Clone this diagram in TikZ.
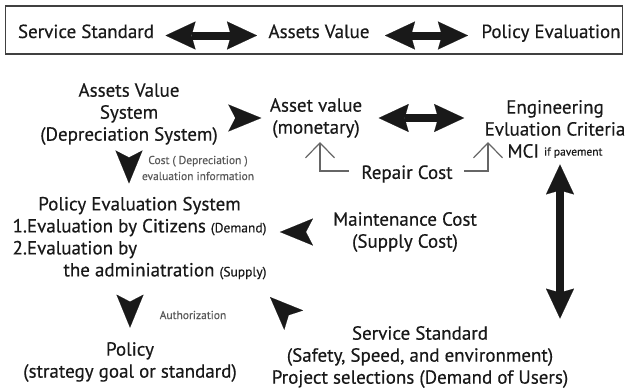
\documentclass[tikz,border=0pt]{standalone}
\usepackage{fontspec}
\setmainfont{PT Sans}[FakeBold=0.4]
\usetikzlibrary{arrows.meta,decorations.markings,positioning}

\newcommand{\bigfnt}{\fontsize{19}{22}\selectfont}
\newcommand{\smlfnt}{\fontsize{13.5}{14}\selectfont}
\newcommand{\tinyfnt}{\fontsize{11.5}{16}\selectfont}

\tikzset{
  notchtip/.tip={Stealth[length=33pt,width=27pt,inset=7pt,line width=0.1pt]},
  widetip/.tip={Stealth[length=30pt,width=28pt,inset=4pt,line width=0.1pt]},
}

\begin{document}
\begin{tikzpicture}[x=1pt, y=-1pt, text=black!90,
    main/.style = {draw=none, font=\bigfnt, align=center},
    note/.style = {draw=none, font=\tinyfnt, align=center, text=black!65},
    twoway/.style = {line width=8pt, black!90, arrows={widetip-widetip}},
    dartmark/.style = {black!90, postaction={decorate},
      decoration={markings, mark=at position #1 with {\arrow{notchtip}}}},
    bracket/.style = {line width=1.2pt, black!60, -{Straight Barb[length=15pt,width=29pt]}}]
    \useasboundingbox (0,0) rectangle (628,389);

    % top bar
    \node[draw=black!75, line width=1.6pt, minimum width=617pt, minimum height=48pt, inner sep=0pt] (bar) at (314,30) {};
    \node[main, anchor=base] (ss) at (86,38)  {Service Standard};
    \node[main, anchor=base] (av) at (319,38) {Assets Value};
    \node[main, anchor=base] (pe) at (551,38) {Policy Evaluation};
    \draw[twoway, shorten <=8pt, shorten >=8pt]  (ss.mid east) -- (ss.mid east -| av.mid west);
    \draw[twoway, shorten <=12pt, shorten >=10pt] (av.mid east) -- (av.mid east -| pe.mid west);

    % systems
    \node[main] (avs)    at (129,114) {Assets Value\\System\\(Depreciation System)};
    \node[main] (asset)  at (316,118) {Asset value\\(monetary)};
    \node[main] (eng)    at (555,129) {Engineering\\Evluation Criteria\\MCI \raisebox{2pt}{\tinyfnt if pavement}};
    \node[main] (repair) at (407,174) {Repair Cost};
    \node[main] (maint)  at (405,232) {Maintenance Cost\\(Supply Cost)};
    \node[main] (pes)    at (139.5,239) {\begin{tabular}{@{}l@{}}
        \multicolumn{1}{@{}c@{}}{Policy Evaluation System}\\
        1.Evaluation by Citizens {\smlfnt(Demand)}\\
        2.Evaluation by\\
        \multicolumn{1}{@{}r@{}}{the adminiatration {\smlfnt(Supply)}}
      \end{tabular}};
    \node[main] (pol)    at (130,362) {Policy\\(strategy goal or standard)};
    \node[main] (sstd)   at (420,357) {Service Standard\\(Safety, Speed, and environment)\\Project selections (Demand of Users)};
    \node[note] (costnote) at (198,168) {Cost ( Depreciation )\\evaluation information};
    \node[note] (authnote) at (193,315) {Authorization};

    \coordinate (lefttip)  at (320,142);
    \coordinate (righttip) at (488,142);
    \coordinate (diagtip)  at (270,297);

    % flows
    \path[dartmark=-5pt]  (asset.west -| avs.east) -- (asset.west);
    \path[dartmark=-8pt]  (avs.south) -- (avs.south |- pes.north);
    \path[dartmark=-10pt] (maint.west) -- (maint.west -| pes.east);
    \path[dartmark=-11pt] (pol.north |- pes.south) -- (pol.north);
    \path[dartmark=0.999] ([xshift=28pt]sstd.north west) -- (diagtip);

    \draw[twoway, shorten <=13pt, shorten >=17pt] (asset.east) -- (asset.east -| eng.west);
    \draw[twoway, shorten <=3pt, shorten >=4pt]   ([xshift=5pt]eng.south) -- ([xshift=5pt]eng.south |- sstd.north);

    \draw[bracket, shorten <=9pt] ([yshift=3pt]repair.west) -| (lefttip);
    \draw[bracket, shorten <=8pt] ([yshift=3pt]repair.east) -| (righttip);
\end{tikzpicture}
\end{document}
